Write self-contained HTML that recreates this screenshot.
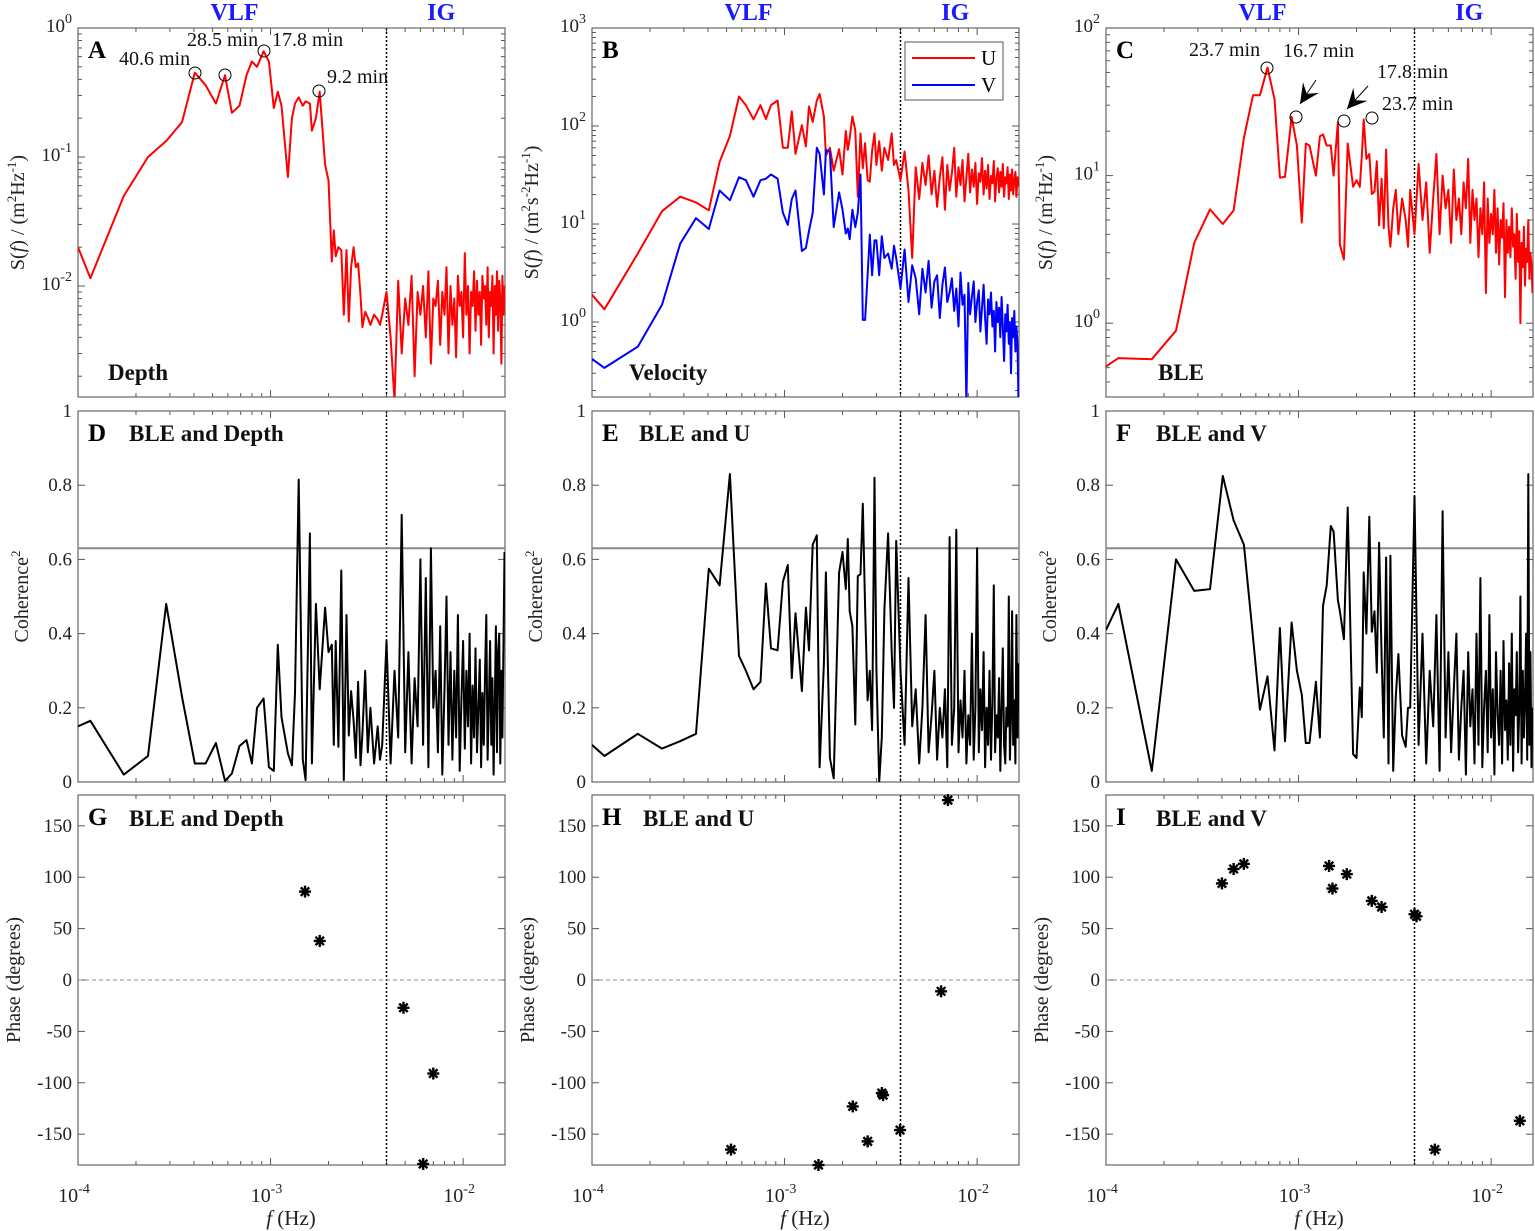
<!DOCTYPE html>
<html><head><meta charset="utf-8"><style>
html,body{margin:0;padding:0;background:#fff;}
svg{display:block;font-family:"Liberation Serif","DejaVu Serif",serif;}
svg text{font-family:"Liberation Serif","DejaVu Serif",serif;}
svg text.sans{font-family:"Liberation Sans","DejaVu Sans",sans-serif;}
</style></head><body>
<svg id="chart" width="1535" height="1231" viewBox="0 0 1535 1231" xmlns="http://www.w3.org/2000/svg"></svg>
<script>
// ---------- data ----------
const fVLF = [1e-4,1.16e-4,1.73e-4,2.31e-4,2.87e-4,3.47e-4,4.04e-4,4.6e-4,5.2e-4,5.8e-4,6.3e-4,6.9e-4,7.5e-4,8.0e-4,8.5e-4,9.2e-4,9.8e-4,1.04e-3,1.09e-3,1.14e-3,1.23e-3,1.29e-3,1.34e-3,1.4e-3,1.47e-3,1.52e-3,1.6e-3,1.64e-3,1.72e-3,1.8e-3,1.92e-3,2.0e-3,2.08e-3,2.13e-3,2.18e-3,2.25e-3,2.33e-3,2.4e-3,2.48e-3,2.55e-3,2.62e-3,2.7e-3,2.77e-3,2.85e-3,2.93e-3,3.0e-3,3.1e-3,3.2e-3,3.3e-3,3.45e-3,3.6e-3,3.7e-3];
const depthVLF = [0.020,0.0115,0.05,0.10,0.133,0.186,0.45,0.36,0.26,0.43,0.22,0.25,0.43,0.55,0.50,0.66,0.55,0.24,0.32,0.25,0.07,0.20,0.26,0.29,0.25,0.27,0.26,0.16,0.20,0.32,0.087,0.066,0.0155,0.027,0.017,0.020,0.019,0.006,0.019,0.0053,0.014,0.020,0.014,0.015,0.0085,0.0048,0.0063,0.0057,0.005,0.006,0.0055,0.005];
const uVLF = [1.9,1.35,5,13.5,19,16.6,13.8,43,79,200,163,117,163,118,163,182,60,60,141,52,102,62,158,110,182,212,125,50,60,35,58,32,89,57,75,125,90,19,84,37,67,28,27,56,84,40,70,35,60,45,84,40];
const vVLF = [0.42,0.34,0.56,1.5,6.3,11.5,8.9,22,17.5,30,28,19,28,29,32,29,13,9.8,18,22,5.3,5.7,8.5,13,60,52,20,57,55,9.3,21,14,8,9,7,14,9.3,13,32,1.05,1.05,3,7.8,3,6.8,6.8,3,7.5,4.5,5,3.5,6];
const bleVLF = [0.51,0.58,0.57,0.89,3.5,5.9,4.7,5.8,18,35,35,54,33,9.7,9.8,25,16,4.8,16.5,16,10,18.5,19,16,16,10,23,3.4,2.7,16.5,8.4,9.3,8.4,13.5,24,13,14,7.5,7.8,12.5,4.6,9.5,4.4,15,4.5,3.3,6,8,4,7,5,3.3];
const cohDepthVLF = [0.15,0.165,0.02,0.07,0.48,0.23,0.05,0.05,0.105,0.003,0.023,0.097,0.113,0.05,0.2,0.225,0.04,0.03,0.37,0.175,0.077,0.045,0.24,0.815,0.06,0.005,0.67,0.05,0.48,0.25,0.47,0.35,0.37,0.1,0.38,0.095,0.57,0.005,0.45,0.125,0.245,0.165,0.065,0.27,0.045,0.13,0.3,0.08,0.2,0.05,0.15,0.06];
const cohUVLF = [0.10,0.07,0.13,0.09,0.11,0.13,0.575,0.53,0.83,0.34,0.3,0.25,0.27,0.535,0.36,0.355,0.54,0.585,0.28,0.455,0.245,0.47,0.355,0.64,0.665,0.04,0.32,0.565,0.065,0.01,0.565,0.62,0.52,0.655,0.46,0.42,0.155,0.555,0.56,0.75,0.47,0.22,0.30,0.14,0.82,0.305,0.0,0.12,0.465,0.67,0.35,0.2];
const cohVVLF = [0.41,0.48,0.03,0.6,0.515,0.52,0.825,0.705,0.64,0.39,0.195,0.285,0.085,0.415,0.11,0.43,0.3,0.235,0.105,0.105,0.27,0.12,0.475,0.53,0.69,0.675,0.49,0.46,0.385,0.74,0.075,0.065,0.255,0.175,0.565,0.4,0.715,0.405,0.46,0.295,0.645,0.34,0.12,0.605,0.05,0.61,0.03,0.23,0.345,0.125,0.095,0.2];
const igStart = 0.0038, igStep = 0.0002;
const depthIG = [0.006,0.009,0.004,0.0013,0.011,0.003,0.008,0.005,0.012,0.002,0.009,0.006,0.010,0.004,0.013,0.0025,0.008,0.007,0.011,0.0035,0.009,0.006,0.014,0.003,0.010,0.005,0.008,0.0028,0.012,0.007,0.009,0.004,0.018,0.006,0.010,0.003,0.009,0.007,0.013,0.0045,0.011,0.006,0.009,0.0035,0.012,0.008,0.010,0.005,0.014,0.004,0.009,0.007,0.012,0.003,0.010,0.006,0.013,0.0045,0.011,0.008,0.0025,0.012,0.006,0.010];
const uIG = [45,28,55,22,4.5,38,18,42,25,50,20,35,15,30,48,14,40,22,33,60,19,38,25,45,17,30,52,21,36,24,42,16,33,27,47,20,35,23,40,18,31,26,44,17,29,37,21,34,24,41,19,30,26,38,18,32,22,36,20,28,34,19,30,24];
const vIG = [4.5,2.2,5.5,1.6,3.8,2.8,1.2,3.5,2.0,4.2,1.4,2.6,3.0,1.1,2.4,3.6,1.6,2.0,2.8,1.3,2.2,0.9,3.2,1.5,1.9,0.15,2.5,1.2,1.8,2.6,1.0,1.6,2.1,0.8,1.4,2.4,1.1,0.6,1.7,1.2,2.0,0.9,1.3,0.5,1.6,1.0,1.4,0.7,1.8,0.9,0.4,1.2,0.8,1.5,0.6,1.0,0.3,1.1,0.7,1.3,0.5,0.9,0.6,0.15];
const bleIG = [8,4,12,5,9,3,7,14,4,10,6,8,3.5,11,5,7,4,9,6,13,3.5,8,5,7,2.8,6,4,9,1.6,7,3.5,5.5,4,8,3,6,2.5,5,3.8,6.5,1.5,5,3,4.5,2.8,6,3.3,4,2,5.5,2.6,4.2,1,3.5,2.4,4.5,1.8,3.2,2.6,5,2,3,2.5,1.6];
const cohDepthIG = [0.1,0.38,0.05,0.3,0.12,0.72,0.08,0.35,0.05,0.28,0.15,0.6,0.1,0.55,0.04,0.63,0.2,0.3,0.08,0.42,0.02,0.25,0.5,0.1,0.35,0.06,0.3,0.12,0.45,0.03,0.22,0.38,0.09,0.3,0.15,0.4,0.05,0.26,0.12,0.36,0.08,0.2,0.33,0.04,0.24,0.1,0.3,0.45,0.06,0.2,0.38,0.1,0.28,0.02,0.22,0.42,0.08,0.35,0.4,0.05,0.3,0.12,0.38,0.62];
const cohUIG = [0.65,0.3,0.1,0.55,0.15,0.25,0.05,0.2,0.45,0.08,0.18,0.3,0.06,0.2,0.12,0.25,0.04,0.66,0.1,0.2,0.68,0.08,0.22,0.12,0.3,0.05,0.18,0.1,0.4,0.06,0.2,0.63,0.08,0.25,0.14,0.35,0.04,0.2,0.1,0.3,0.06,0.22,0.53,0.08,0.18,0.12,0.28,0.03,0.2,0.36,0.1,0.05,0.2,0.15,0.5,0.06,0.18,0.46,0.1,0.22,0.05,0.45,0.12,0.32];
const cohVIG = [0.2,0.77,0.1,0.4,0.05,0.3,0.15,0.45,0.03,0.73,0.12,0.35,0.08,0.25,0.4,0.06,0.2,0.3,0.02,0.35,0.15,0.25,0.05,0.4,0.1,0.55,0.04,0.2,0.3,0.08,0.45,0.12,0.25,0.02,0.35,0.18,0.1,0.3,0.05,0.38,0.14,0.22,0.06,0.32,0.1,0.4,0.03,0.25,0.18,0.35,0.08,0.2,0.5,0.05,0.3,0.12,0.22,0.4,0.06,0.83,0.1,0.35,0.04,0.2];
const phaseDepthF = [1.51e-3,1.8e-3,4.9e-3,7.0e-3,6.2e-3];
const phaseDepthV = [86,38,-27,-91,-179];
const phaseUF = [5.27e-4,1.5e-3,2.26e-3,2.7e-3,3.2e-3,3.25e-3,3.98e-3,6.5e-3,7.05e-3];
const phaseUV = [-165,-180,-123,-157,-110,-112,-146,-11,175];
const phaseVF = [4.0e-4,4.6e-4,5.2e-4,1.44e-3,1.5e-3,1.78e-3,2.4e-3,2.7e-3,4.0e-3,4.1e-3,5.1e-3,1.41e-2];
const phaseVV = [94,108,113,111,89,103,77,71,64,62,-165,-137];
const coherenceThreshold = 0.63;
const igBoundary = 0.004;

// ---------- drawing ----------
const NS='http://www.w3.org/2000/svg';
const svg=document.getElementById('chart');
const SERIF='Liberation Serif, DejaVu Serif, serif';
function mk(tag,attrs,parent){const e=document.createElementNS(NS,tag);for(const k in attrs)e.setAttribute(k,attrs[k]);if(tag==='text'&&!attrs['font-family'])e.setAttribute('font-family',SERIF);(parent||svg).appendChild(e);return e;}
const cols=[78,592,1106], W=427;
const rows=[{y:28,h:369},{y:411,h:371},{y:795,h:370}];
const XMIN=-4, XMAX=Math.log10(0.0165);
function xs(c,f){return cols[c]+(Math.log10(f)-XMIN)/(XMAX-XMIN)*W;}
function igArr(vals){return vals.map((v,i)=>igStart+i*igStep);}
const panels=[
 {c:0,r:0,log:true,ymin:-2.86,ymax:0,yt:[0,-1,-2]},
 {c:1,r:0,log:true,ymin:-0.765,ymax:3,yt:[3,2,1,0]},
 {c:2,r:0,log:true,ymin:-0.5,ymax:2,yt:[2,1,0]},
 {c:0,r:1,ymin:0,ymax:1,yt:[0,0.2,0.4,0.6,0.8,1]},
 {c:1,r:1,ymin:0,ymax:1,yt:[0,0.2,0.4,0.6,0.8,1]},
 {c:2,r:1,ymin:0,ymax:1,yt:[0,0.2,0.4,0.6,0.8,1]},
 {c:0,r:2,ymin:-180,ymax:180,yt:[150,100,50,0,-50,-100,-150]},
 {c:1,r:2,ymin:-180,ymax:180,yt:[150,100,50,0,-50,-100,-150]},
 {c:2,r:2,ymin:-180,ymax:180,yt:[150,100,50,0,-50,-100,-150]},
];
function ys(p,v){const R=rows[p.r];const t=p.log?Math.log10(v):v;return R.y+R.h-(t-p.ymin)/(p.ymax-p.ymin)*R.h;}
const letters='ABCDEFGHI';
panels.forEach((p,i)=>{
  const x0=cols[p.c],R=rows[p.r];
  const g=mk('g',{});
  
  
  const cp=mk('clipPath',{id:'clip'+i},g);mk('rect',{x:x0,y:R.y,width:W,height:R.h},cp);
  p.g=g;p.clip='url(#clip'+i+')';
  for(let d=-4;d<=-2;d++)for(let m=1;m<=9;m++){const f=m*Math.pow(10,d);if(Math.log10(f)>XMAX+1e-9)continue;const x=xs(p.c,f);const L=m==1?7:4;
    mk('line',{x1:x,x2:x,y1:R.y+R.h,y2:R.y+R.h-L,stroke:'#555','stroke-width':1},g);
    mk('line',{x1:x,x2:x,y1:R.y,y2:R.y+L,stroke:'#555','stroke-width':1},g);}
  p.yt.forEach(t=>{const y=p.log?ys(p,Math.pow(10,t)):ys(p,t);
    mk('line',{x1:x0,x2:x0+7,y1:y,y2:y,stroke:'#555'},g);mk('line',{x1:x0+W,x2:x0+W-7,y1:y,y2:y,stroke:'#555'},g);
    const tx=mk('text',{x:x0-6,y:y+6,'text-anchor':'end','font-size':19,fill:'#222'},g);
    if(p.log){tx.setAttribute('y',y+4);tx.textContent='10';const s=mk('tspan',{dy:-9,'font-size':14},tx);s.textContent=String(t);}
    else tx.textContent=String(t);
    
  });
  if(p.log){for(let d=Math.floor(p.ymin);d<p.ymax;d++)for(let m=2;m<=9;m++){const v=m*Math.pow(10,d);const lv=Math.log10(v);if(lv<p.ymin||lv>p.ymax)continue;const y=ys(p,v);
    mk('line',{x1:x0,x2:x0+4,y1:y,y2:y,stroke:'#555'},g);mk('line',{x1:x0+W,x2:x0+W-4,y1:y,y2:y,stroke:'#555'},g);}}
  if(p.r==2){[-4,-3,-2].forEach(d=>{const x=xs(p.c,Math.pow(10,d));const tx=mk('text',{x:x-4,y:1202,'text-anchor':'middle','font-size':20,fill:'#222'},g);tx.textContent='10';const s=mk('tspan',{dy:-9,'font-size':14},tx);s.textContent=String(d);
    });
    const xl=mk('text',{x:x0+213,y:1225,'text-anchor':'middle','font-size':21,fill:'#222'},g);
    
    const it=mk('tspan',{'font-style':'italic'},xl);it.textContent='f';const t2=mk('tspan',{},xl);t2.textContent=' (Hz)';}
  const bx=xs(p.c,igBoundary);
  const bl=mk('line',{x1:bx,x2:bx,y1:R.y,y2:R.y+R.h,stroke:'#000','stroke-width':1.5,'stroke-dasharray':'2,2'},g);
  
  mk('rect',{x:x0,y:R.y,width:W,height:R.h,fill:'none',stroke:'#666','stroke-width':1.2},g);
  const yc=R.y+R.h/2, yx=x0-(p.r==0?54:p.r==1?50:58);
  const yt=mk('text',{x:yx,y:yc,'text-anchor':'middle','font-size':20,fill:'#222',transform:'rotate(-90 '+yx+' '+yc+')'},g);
  
  if(p.r==0){const a=mk('tspan',{},yt);a.textContent='S(';const b=mk('tspan',{'font-style':'italic'},yt);b.textContent='f';
    const c=mk('tspan',{},yt);c.textContent=') / (m';
    if(p.c==1){const s1=mk('tspan',{dy:-8,'font-size':13},yt);s1.textContent='2';const s2=mk('tspan',{dy:8},yt);s2.textContent='s';const s3=mk('tspan',{dy:-8,'font-size':13},yt);s3.textContent='-2';}
    else{const s1=mk('tspan',{dy:-8,'font-size':13},yt);s1.textContent='2';}
    const h=mk('tspan',{dy:8},yt);h.textContent='Hz';const s4=mk('tspan',{dy:-8,'font-size':13},yt);s4.textContent='-1';const e=mk('tspan',{dy:8},yt);e.textContent=')';}
  else if(p.r==1){yt.textContent='Coherence';const s=mk('tspan',{dy:-8,'font-size':13},yt);s.textContent='2';}
  else yt.textContent='Phase (degrees)';
  const lt=mk('text',{x:x0+10,y:R.y+30,'font-family':'Liberation Sans, DejaVu Sans, sans-serif','font-weight':'bold','font-size':25,fill:'#000'},g);
  lt.textContent=letters[i];
});
[3,4,5].forEach(i=>{const p=panels[i];const y=ys(p,coherenceThreshold);const l=mk('line',{x1:cols[p.c],x2:cols[p.c]+W,y1:y,y2:y,stroke:'#888','stroke-width':2},p.g);
  });
[6,7,8].forEach(i=>{const p=panels[i];const y=ys(p,0);const l=mk('line',{x1:cols[p.c],x2:cols[p.c]+W,y1:y,y2:y,stroke:'#888','stroke-width':1,'stroke-dasharray':'4,3'},p.g);
  });
function series(pi,fa,va,color,name){const p=panels[pi];const d=fa.map((f,i)=>(i?'L':'M')+xs(p.c,f).toFixed(1)+','+ys(p,Math.max(va[i],1e-6)).toFixed(1)).join('');
  const path=mk('path',{d:d,fill:'none',stroke:color,'stroke-width':2,'stroke-linejoin':'round','clip-path':p.clip},p.g);
  }
function both(pi,vlf,ig,color,name){series(pi,fVLF.concat(igArr(ig)),vlf.concat(ig),color,name);}
both(0,depthVLF,depthIG,'#ff0000','depth-spectrum-line');
both(1,uVLF,uIG,'#ff0000','u-spectrum-line');
both(1,vVLF,vIG,'#0000ff','v-spectrum-line');
both(2,bleVLF,bleIG,'#ff0000','ble-spectrum-line');
both(3,cohDepthVLF,cohDepthIG,'#000','coherence-ble-depth-line');
both(4,cohUVLF,cohUIG,'#000','coherence-ble-u-line');
both(5,cohVVLF,cohVIG,'#000','coherence-ble-v-line');
function stars(pi,fa,va,name){const p=panels[pi];fa.forEach((f,i)=>{const x=xs(p.c,f),y=ys(p,va[i]);
  const s=mk('g',{},p.g);
  
  
  const r=6;
  for(let k=0;k<4;k++){const a=k*Math.PI/4;mk('line',{x1:x-r*Math.cos(a),y1:y-r*Math.sin(a),x2:x+r*Math.cos(a),y2:y+r*Math.sin(a),stroke:'#000','stroke-width':2.4},s);} });}
stars(6,phaseDepthF,phaseDepthV,'phase-point-depth');
stars(7,phaseUF,phaseUV,'phase-point-u');
stars(8,phaseVF,phaseVV,'phase-point-v');
function txt(x,y,s,attrs,name){const t=mk('text',Object.assign({x:x,y:y,'font-size':19,fill:'#111'},attrs||{}));t.textContent=s;return t;}
cols.forEach((x0,c)=>{txt(xs(c,6.5e-4),20,'VLF',{'text-anchor':'middle','font-weight':'bold','font-size':24,fill:'#1a1aff'},'vlf-band-label');
  txt(xs(c,7.7e-3),20,'IG',{'text-anchor':'middle','font-weight':'bold','font-size':24,fill:'#1a1aff'},'ig-band-label');});
const B={'font-weight':'bold','font-size':23};
txt(108,380,'Depth',B,'panel-title');
txt(629,380,'Velocity',B,'panel-title');
txt(1158,380,'BLE',B,'panel-title');
txt(129,441,'BLE and Depth',B,'panel-title');
txt(639,441,'BLE and U',B,'panel-title');
txt(1156,441,'BLE and V',B,'panel-title');
txt(129,826,'BLE and Depth',B,'panel-title');
txt(643,826,'BLE and U',B,'panel-title');
txt(1156,826,'BLE and V',B,'panel-title');
[[195,73],[225,75],[264,51],[319,91],[1267,68],[1296,117],[1344,121],[1372,118]].forEach(([x,y])=>{const c=mk('circle',{cx:x,cy:y,r:6,fill:'none',stroke:'#000','stroke-width':1});});
const A={'font-size':20};
txt(119,65,'40.6 min',A,'peak-label');txt(187,46,'28.5 min',A,'peak-label');txt(272,46,'17.8 min',A,'peak-label');txt(327,83,'9.2 min',A,'peak-label');
txt(1189,56,'23.7 min',A,'peak-label');txt(1283,57,'16.7 min',A,'peak-label');txt(1377,78,'17.8 min',A,'peak-label');txt(1382,110,'23.7 min',A,'peak-label');
[[1316,80,1300,104],[1368,86,1347,109]].forEach(([x1,y1,x2,y2])=>{const g=mk('g',{});
  mk('line',{x1:x1,y1:y1,x2:x2,y2:y2,stroke:'#000','stroke-width':1},g);
  const a=Math.atan2(y2-y1,x2-x1),L=22,w=0.45;
  mk('polygon',{points:`${x2},${y2} ${x2-L*Math.cos(a-w)},${y2-L*Math.sin(a-w)} ${x2-L*0.55*Math.cos(a)},${y2-L*0.55*Math.sin(a)} ${x2-L*Math.cos(a+w)},${y2-L*Math.sin(a+w)}`,fill:'#000'},g);});
const lg=mk('g',{});
mk('rect',{x:905,y:42,width:98,height:58,fill:'#fff',stroke:'#555','stroke-width':1},lg);
mk('line',{x1:912,x2:975,y1:58,y2:58,stroke:'#ff0000','stroke-width':2},lg);
mk('line',{x1:912,x2:975,y1:85,y2:85,stroke:'#0000ff','stroke-width':2},lg);
const lu=mk('text',{x:981,y:65,'font-size':21},lg);lu.textContent='U';
const lv=mk('text',{x:981,y:92,'font-size':21},lg);lv.textContent='V';
</script>
</body></html>
